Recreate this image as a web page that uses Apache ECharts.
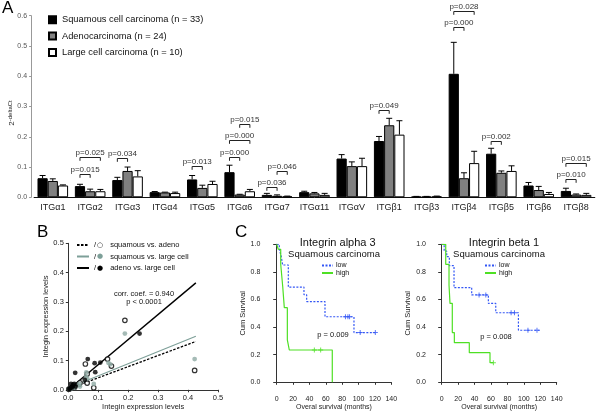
<!DOCTYPE html>
<html><head><meta charset="utf-8">
<script src="https://cdn.jsdelivr.net/npm/echarts@6/dist/echarts.min.js"></script>
<style>html,body{margin:0;padding:0;background:#fff}#c{width:600px;height:414px}</style>
</head><body><div id="c"></div>
<script>
// ---------- Panel A data ----------
const categories = ['ITGα1','ITGα2','ITGα3','ITGα4','ITGα5','ITGα6','ITGα7','ITGα11','ITGαV','ITGβ1','ITGβ3','ITGβ4','ITGβ5','ITGβ6','ITGβ8'];
const squamous    = [0.063,0.037,0.057,0.017,0.059,0.083,0.008,0.017,0.128,0.186,0.002,0.408,0.144,0.039,0.021];
const squamousErr = [0.009,0.006,0.009,0.002,0.013,0.023,0.005,0.003,0.013,0.015,0.001,0.104,0.018,0.010,0.009];
const adeno       = [0.054,0.020,0.087,0.016,0.031,0.009,0.005,0.013,0.103,0.238,0.002,0.063,0.081,0.024,0.009];
const adenoErr    = [0.007,0.007,0.013,0.001,0.009,0.001,0.003,0.003,0.014,0.023,0.001,0.018,0.006,0.012,0.002];
const large       = [0.039,0.020,0.069,0.014,0.044,0.020,0.003,0.008,0.103,0.207,0.003,0.113,0.087,0.011,0.008];
const largeErr    = [0.002,0.006,0.019,0.003,0.009,0.006,0.001,0.005,0.026,0.046,0.001,0.039,0.017,0.005,0.005];
const yTicksA = [0,0.1,0.2,0.3,0.4,0.5,0.6];
// brackets: [category index, from bar, to bar, bracket height]
const pBrackets = [[1,0,1,0.076],[1,0,2,0.133],[2,0,1,0.130],[4,0,1,0.102],[5,0,1,0.132],[5,0,2,0.189],[5,1,2,0.242],[6,0,1,0.033],[6,1,2,0.088],[9,0,1,0.287],[11,0,1,0.563],[11,0,2,0.616],[12,0,1,0.186],[14,0,1,0.060],[14,0,2,0.114]];
const pLabels = ['p=0.015','p=0.025','p=0.034','p=0.013','p=0.000','p=0.000','p=0.015','p=0.036','p=0.046','p=0.049','p=0.000','p=0.028','p=0.002','p=0.010','p=0.015'];

// ---------- Panel B data ----------
const bTicks = [0,0.1,0.2,0.3,0.4,0.5];
const sqVsAdeno = [[0.063,0.054],[0.037,0.020],[0.057,0.088],[0.017,0.016],[0.063,0.023],[0.085,0.007],[0.008,0.005],[0.017,0.013],[0.131,0.105],[0.189,0.237],[0.002,0.002],[0.422,0.066],[0.144,0.081],[0.039,0.024],[0.021,0.009]];
const sqVsLarge = [[0.063,0.039],[0.037,0.020],[0.060,0.059],[0.017,0.014],[0.059,0.044],[0.085,0.020],[0.008,0.003],[0.017,0.008],[0.134,0.092],[0.189,0.192],[0.002,0.003],[0.422,0.105],[0.140,0.087],[0.039,0.011],[0.021,0.008]];
const adenoVsLarge = [[0.055,0.034],[0.020,0.020],[0.090,0.060],[0.016,0.014],[0.023,0.058],[0.009,0.020],[0.005,0.003],[0.013,0.008],[0.107,0.093],[0.238,0.192],[0.002,0.003],[0.065,0.105],[0.088,0.091],[0.024,0.011],[0.009,0.008]];
const fitSqAdeno = [[0,0.003],[0.426,0.165]];
const fitSqLarge = [[0,0.006],[0.426,0.183]];
const fitAdenoLarge = [[0,0.0],[0.426,0.365]];

// ---------- Panel C data ----------
const a3LowSurv  = [[0,1],[3.2,0.96],[5.3,0.92],[7.3,0.85],[14.2,0.69],[33.3,0.635],[36.6,0.585],[59,0.475],[94.4,0.36],[122,0.36]];
const a3LowCens  = [[84,0.475],[87,0.475],[89,0.475],[102,0.36],[120.5,0.36]];
const a3HighSurv = [[0,1],[1.9,0.964],[4.9,0.855],[7.3,0.698],[9.3,0.541],[13,0.307],[15.4,0.234],[67.9,0]];
const a3HighCens = [[46,0.234],[53.7,0.234]];
const b1LowSurv  = [[0,1],[3,0.95],[6.1,0.91],[9.3,0.845],[15,0.686],[36.5,0.633],[56.8,0.572],[65.8,0.504],[93.4,0.377],[119.7,0.377]];
const b1LowCens  = [[45.5,0.633],[53.7,0.633],[84.5,0.504],[88.6,0.504],[105,0.377],[116,0.377]];
const b1HighSurv = [[0,1],[4.9,0.855],[8.9,0.705],[10.1,0.572],[12.9,0.36],[15.4,0.287],[33.6,0.215],[58.8,0.142],[62.9,0.142]];
const b1HighCens = [[62.9,0.142]];

// ---------- styling ----------
const FONT = '"Liberation Sans", Arial, sans-serif';
const BAR_W = 10.2;
const BLUE = '#3356f5', GREEN = '#4ee024', GRAYGREEN = '#7d9f98';

const errData = [];
[[squamous,squamousErr],[adeno,adenoErr],[large,largeErr]].forEach((pair,k)=>{
  pair[0].forEach((v,i)=>errData.push([i,k,v,v+pair[1][i]]));
});

function renderErr(params, api){
  const i = api.value(0), k = api.value(1);
  const b = api.coord([i, api.value(2)]);
  const t = api.coord([i, api.value(3)]);
  const x = b[0] + (k-1)*BAR_W;
  return {type:'group', children:[
    {type:'line', shape:{x1:x,y1:b[1],x2:x,y2:t[1]}, style:{stroke:'#000',lineWidth:1}},
    {type:'line', shape:{x1:x-3,y1:t[1],x2:x+3,y2:t[1]}, style:{stroke:'#000',lineWidth:1}}
  ]};
}
function renderBracket(params, api){
  const i = api.value(0), a = api.value(1), b = api.value(2);
  const c = api.coord([i, api.value(3)]);
  const x1 = c[0]+(a-1)*BAR_W, x2 = c[0]+(b-1)*BAR_W, y = Math.round(c[1])+0.5;
  return {type:'group', children:[
    {type:'polyline', shape:{points:[[x1,y+3.3],[x1,y],[x2,y],[x2,y+3.3]]}, style:{stroke:'#222',fill:null,lineWidth:1}},
    {type:'text', x:(x1+x2)/2, y:y-1.2, style:{text:pLabels[params.dataIndex], fontSize:8, fill:'#333', align:'center', verticalAlign:'bottom', fontFamily:FONT}}
  ]};
}
const censorSym = 'path://M4,0h2v4h4v2h-4v4h-2v-4h-4v-2h4z';

function kmX(grid, off){ return {type:'value', gridIndex:grid, min:0, max:140, interval:20, offset:off,
  name:'Overal survival (months)', nameLocation:'middle', nameGap:12,
  nameTextStyle:{fontSize:7, color:'#222', fontFamily:FONT},
  axisLine:{lineStyle:{color:'#333',width:1}}, axisTick:{length:2.5,lineStyle:{color:'#333'}},
  axisLabel:{fontSize:7, color:'#222', margin:4, fontFamily:FONT}, splitLine:{show:false}}; }
function kmY(grid, off){ return {type:'value', gridIndex:grid, min:0, max:1, interval:0.2, offset:off,
  name:'Cum Survival', nameLocation:'middle', nameGap:17,
  nameTextStyle:{fontSize:7.5, color:'#222', fontFamily:FONT},
  axisLine:{show:true,lineStyle:{color:'#333',width:1}}, axisTick:{show:true,length:3.5,lineStyle:{color:'#333'}},
  axisLabel:{fontSize:7, color:'#222', margin:9, fontFamily:FONT, formatter:v=>v.toFixed(1)}, splitLine:{show:false}}; }
function kmLine(name, data, x, y, color, dotted){ return {type:'line', name, data, xAxisIndex:x, yAxisIndex:y, step:'end', symbol:'none',
  lineStyle:{color, width:1.2, type: dotted?[2,1.5]:'solid'}, itemStyle:{color}, z:3, animation:false}; }
function kmCens(name, data, x, y, color){ return {type:'scatter', name, data, xAxisIndex:x, yAxisIndex:y, symbol:censorSym, symbolSize:5, itemStyle:{color}, z:4, animation:false}; }

const option = {
  animation:false,
  textStyle:{fontFamily:FONT},
  grid:[
    {left:34.1, top:15.7, width:560.7, height:181.6},
    {left:68.3, top:243.3, width:149.7, height:146.5},
    {left:276.7, top:244.3, width:114.6, height:138},
    {left:441.7, top:244.3, width:115, height:138}
  ],
  xAxis:[
    {type:'category', gridIndex:0, data:categories, axisLine:{lineStyle:{color:'#111',width:1}}, axisTick:{show:false},
     axisLabel:{interval:0, fontSize:9, color:'#222', margin:6, fontFamily:FONT}},
    {type:'value', gridIndex:1, min:bTicks[0], max:bTicks[bTicks.length-1], interval:0.1, offset:0.5, name:'Integin expression levels', nameLocation:'middle', nameGap:13,
     nameTextStyle:{fontSize:7.5,color:'#222',fontFamily:FONT},
     axisLine:{lineStyle:{color:'#333',width:1}}, axisTick:{length:2.5,lineStyle:{color:'#333'}, customValues:bTicks},
     axisLabel:{fontSize:7.5,color:'#222',margin:3.5,fontFamily:FONT,customValues:bTicks,showMaxLabel:true,alignMaxLabel:'center',hideOverlap:false,formatter:v=>v.toFixed(1)}, splitLine:{show:false}},
    kmX(2, 9.4), kmX(3, 9.4)
  ],
  yAxis:[
    {type:'value', gridIndex:0, min:yTicksA[0], max:yTicksA[yTicksA.length-1], interval:0.1, offset:3,
     axisLine:{show:true,lineStyle:{color:'#999',width:1}}, axisTick:{show:true,length:2,lineStyle:{color:'#999'}},
     axisLabel:{fontSize:7, color:'#555', margin:4, fontFamily:FONT, formatter:v=>v.toFixed(1)}, splitLine:{show:false}},
    {type:'value', gridIndex:1, min:bTicks[0], max:bTicks[bTicks.length-1], interval:0.1, offset:0.5, name:'Integin expression levels', nameLocation:'middle', nameGap:16,
     nameTextStyle:{fontSize:7.5,color:'#222',fontFamily:FONT},
     axisLine:{show:true,lineStyle:{color:'#333',width:1}}, axisTick:{show:true,length:2.5,lineStyle:{color:'#333'}, customValues:bTicks},
     axisLabel:{fontSize:7.5,color:'#222',margin:4,fontFamily:FONT,customValues:bTicks,showMaxLabel:true,hideOverlap:false,formatter:v=>v.toFixed(1)}, splitLine:{show:false}},
    kmY(2, 7.4), kmY(3, 6.7)
  ],
  legend:[
    {orient:'vertical', left:48, top:15.3, itemWidth:7, itemHeight:7, itemGap:7.3, padding:0, icon:'rect',
     data:['Squamous cell carcinoma (n = 33)','Adenocarcinoma (n = 24)','Large cell carcinoma (n = 10)'],
     textStyle:{fontSize:9.3, color:'#111', fontFamily:FONT, padding:[0,0,0,1]}},
    {orient:'vertical', left:76, top:241, itemWidth:12, itemHeight:6, itemGap:3.5, padding:0, itemStyle:{opacity:0},
     data:['squamous vs. adeno','squamous vs. large cell','adeno vs. large cell'],
     formatter: n => {
       const m = n==='squamous vs. adeno' ? '{s|/}{o|○}' : (n==='squamous vs. large cell' ? '{s|/}{g|●}' : '{s|/}{k|●}');
       return m + '{t|' + n + '}';
     },
     textStyle:{fontSize:7.5, color:'#111', fontFamily:FONT, rich:{
       s:{fontSize:7.5,color:'#111',padding:[0,1,0,0]},
       o:{fontSize:7,color:'#000',fontFamily:'DejaVu Sans'},
       g:{fontSize:7,color:GRAYGREEN,fontFamily:'DejaVu Sans'},
       k:{fontSize:7,color:'#000',fontFamily:'DejaVu Sans'},
       t:{fontSize:7.5,color:'#111',padding:[0,0,0,7]}}}},
    {orient:'vertical', left:321, top:262, itemWidth:11, itemHeight:6, itemGap:0.5, padding:0, data:['low','high'], itemStyle:{opacity:0},
     textStyle:{fontSize:7, color:'#111', fontFamily:FONT, lineHeight:7, padding:[0,0,0,-2]}},
    {orient:'vertical', left:484, top:262, itemWidth:11, itemHeight:6, itemGap:0.5, padding:0, data:['low','high'], itemStyle:{opacity:0},
     textStyle:{fontSize:7, color:'#111', fontFamily:FONT, lineHeight:7, padding:[0,0,0,-2]}}
  ],
  graphic:[
    {type:'text', left:2, top:0, style:{text:'A', fontSize:17, fill:'#000', fontFamily:FONT}},
    {type:'text', left:37, top:224, style:{text:'B', fontSize:17, fill:'#000', fontFamily:FONT}},
    {type:'text', left:235, top:224, style:{text:'C', fontSize:17, fill:'#000', fontFamily:FONT}},
    {type:'text', x:12, y:113, rotation:Math.PI/2, style:{text:'{a|2}{b|-deltaCt}', align:'center', verticalAlign:'middle', fontFamily:FONT,
      rich:{a:{fontSize:8,fill:'#222',fontFamily:FONT}, b:{fontSize:6,fill:'#222',fontFamily:FONT,padding:[0,0,4,0]}}}},
    {type:'text', x:144, y:293.5, style:{text:'corr. coef. = 0.940', fontSize:7.5, fill:'#111', align:'center', verticalAlign:'middle', fontFamily:FONT}},
    {type:'text', x:144, y:302.2, style:{text:'p < 0.0001', fontSize:7.5, fill:'#111', align:'center', verticalAlign:'middle', fontFamily:FONT}},
    {type:'text', x:337.7, y:242.7, style:{text:'Integrin alpha 3', fontSize:11, fill:'#111', align:'center', verticalAlign:'middle', fontFamily:FONT}},
    {type:'text', x:334, y:254, style:{text:'Squamous carcinoma', fontSize:9.5, fill:'#111', align:'center', verticalAlign:'middle', fontFamily:FONT}},
    {type:'text', x:504, y:242.7, style:{text:'Integrin beta 1', fontSize:11, fill:'#111', align:'center', verticalAlign:'middle', fontFamily:FONT}},
    {type:'text', x:499, y:254, style:{text:'Squamous carcinoma', fontSize:9.5, fill:'#111', align:'center', verticalAlign:'middle', fontFamily:FONT}},
    {type:'text', x:333, y:335, style:{text:'p = 0.009', fontSize:7.5, fill:'#111', align:'center', verticalAlign:'middle', fontFamily:FONT}},
    {type:'text', x:496, y:336.5, style:{text:'p = 0.008', fontSize:7.5, fill:'#111', align:'center', verticalAlign:'middle', fontFamily:FONT}}
  ],
  series:[
    {type:'bar', name:'Squamous cell carcinoma (n = 33)', data:squamous, xAxisIndex:0, yAxisIndex:0, barWidth:BAR_W, barGap:'0%',
     itemStyle:{color:'#000', borderColor:'#000', borderWidth:1}},
    {type:'bar', name:'Adenocarcinoma (n = 24)', data:adeno, xAxisIndex:0, yAxisIndex:0, barWidth:BAR_W, barGap:'0%',
     itemStyle:{color:'#808080', borderColor:'#000', borderWidth:1}},
    {type:'bar', name:'Large cell carcinoma (n = 10)', data:large, xAxisIndex:0, yAxisIndex:0, barWidth:BAR_W, barGap:'0%',
     itemStyle:{color:'#fff', borderColor:'#000', borderWidth:1}},
    {type:'custom', name:'err', data:errData, xAxisIndex:0, yAxisIndex:0, renderItem:renderErr, z:1},
    {type:'custom', name:'brackets', data:pBrackets, xAxisIndex:0, yAxisIndex:0, renderItem:renderBracket, clip:false, z:5},

    {type:'line', name:'squamous vs. adeno', data:fitSqAdeno, xAxisIndex:1, yAxisIndex:1, symbol:'none',
     lineStyle:{color:'#000', width:1.3, type:[2.5,1.5]}, itemStyle:{color:'#000'}, z:2},
    {type:'line', name:'squamous vs. large cell', data:fitSqLarge, xAxisIndex:1, yAxisIndex:1, symbol:'none',
     lineStyle:{color:GRAYGREEN, width:1.1}, itemStyle:{color:GRAYGREEN}, z:2},
    {type:'line', name:'adeno vs. large cell', data:fitAdenoLarge, xAxisIndex:1, yAxisIndex:1, symbol:'none',
     lineStyle:{color:'#000', width:1.4}, itemStyle:{color:'#000'}, z:2},
    {type:'scatter', name:'pts sq-ad', data:sqVsAdeno, xAxisIndex:1, yAxisIndex:1, symbol:'circle', symbolSize:4.5,
     itemStyle:{color:'#fff', borderColor:'#000', borderWidth:1.2}, z:4},
    {type:'scatter', name:'pts sq-lg', data:sqVsLarge, xAxisIndex:1, yAxisIndex:1, symbol:'circle', symbolSize:4.8,
     itemStyle:{color:'#8faaa4'}, z:4},
    {type:'scatter', name:'pts ad-lg', data:adenoVsLarge, xAxisIndex:1, yAxisIndex:1, symbol:'circle', symbolSize:4.8,
     itemStyle:{color:'#000'}, z:4},

    kmLine('low', a3LowSurv, 2, 2, BLUE, true),
    kmLine('high', a3HighSurv, 2, 2, GREEN, false),
    kmCens('a3 low censored', a3LowCens, 2, 2, BLUE),
    kmCens('a3 high censored', a3HighCens, 2, 2, GREEN),
    kmLine('low', b1LowSurv, 3, 3, BLUE, true),
    kmLine('high', b1HighSurv, 3, 3, GREEN, false),
    kmCens('b1 low censored', b1LowCens, 3, 3, BLUE),
    kmCens('b1 high censored', b1HighCens, 3, 3, GREEN)
  ]
};
const chart = echarts.init(document.getElementById('c'), null, {renderer:'canvas'});
chart.setOption(option);
</script></body></html>
